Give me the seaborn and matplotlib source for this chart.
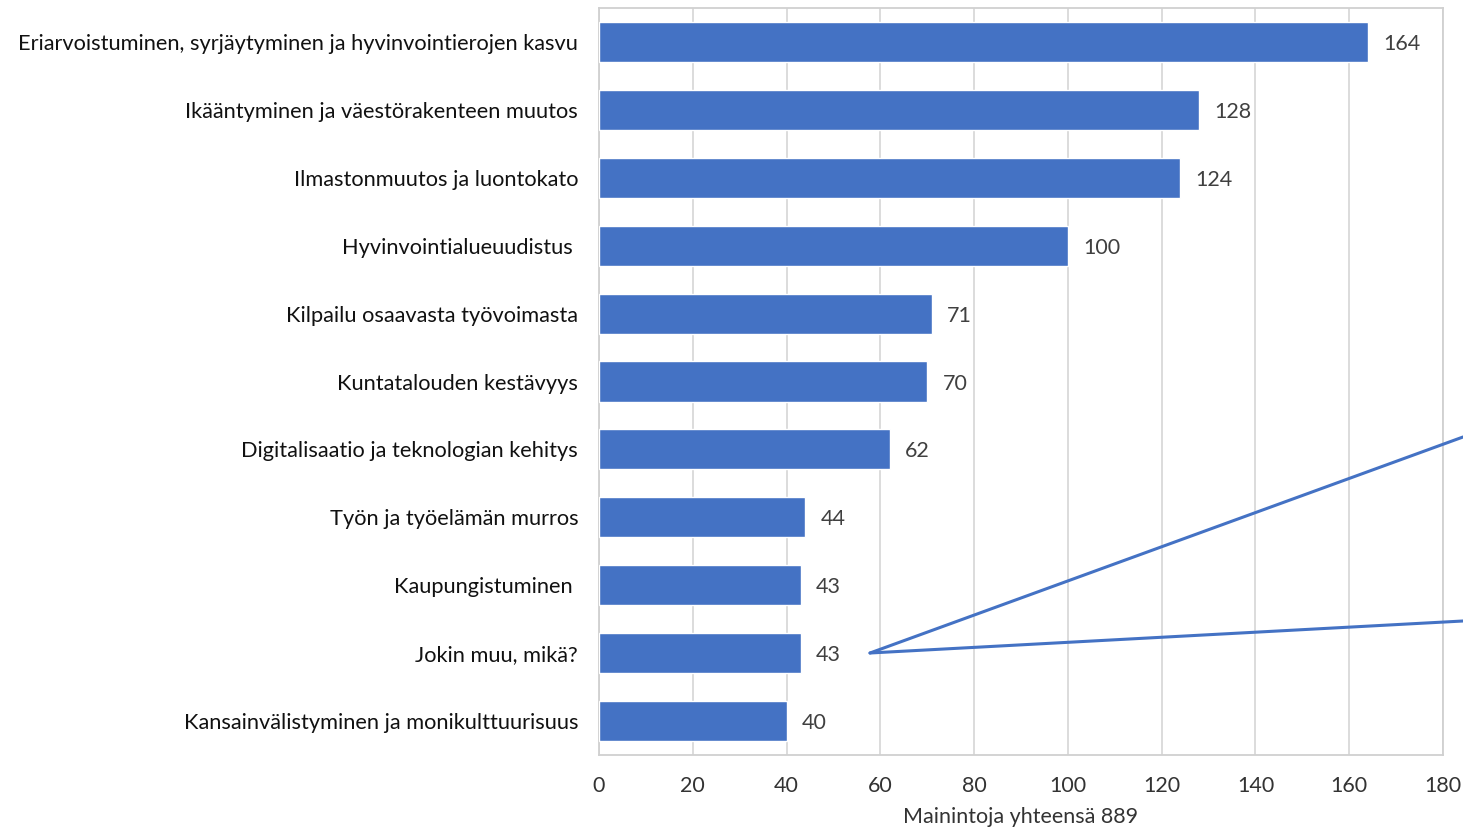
import matplotlib
matplotlib.use("Agg")
import matplotlib.pyplot as plt
import seaborn as sns
import pandas as pd
from matplotlib.lines import Line2D

categories = [
    "Eriarvoistuminen, syrjäytyminen ja hyvinvointierojen kasvu",
    "Ikääntyminen ja väestörakenteen muutos",
    "Ilmastonmuutos ja luontokato",
    "Hyvinvointialueuudistus ",
    "Kilpailu osaavasta työvoimasta",
    "Kuntatalouden kestävyys",
    "Digitalisaatio ja teknologian kehitys",
    "Työn ja työelämän murros",
    "Kaupungistuminen ",
    "Jokin muu, mikä?",
    "Kansainvälistyminen ja monikulttuurisuus",
]
values = [164, 128, 124, 100, 71, 70, 62, 44, 43, 43, 40]
x_ticks = [0, 20, 40, 60, 80, 100, 120, 140, 160, 180]
x_label = "Mainintoja yhteensä 889"

df = pd.DataFrame({"category": categories, "value": values})

sns.set_theme(style="white")
plt.rcParams["font.family"] = ["Lato", "DejaVu Sans"]

fig = plt.figure(figsize=(14.63, 8.30), dpi=100)
ax = fig.add_axes([599 / 1463, 1 - 755 / 830, (1443 - 599) / 1463, (755 - 8) / 830])

bar_color = "#4472C4"
sns.barplot(data=df, y="category", x="value", orient="h", color=bar_color,
            width=0.59, ax=ax, saturation=1, zorder=3)

ax.set_xlim(0, 180)
ax.set_ylim(10.5, -0.5)
ax.set_xticks(x_ticks)
ax.set_xticklabels([str(t) for t in x_ticks], fontsize=15.5, color="#333333")
ax.tick_params(axis="x", length=0, pad=15)
ax.tick_params(axis="y", length=0, pad=15, labelsize=15.7, labelcolor="#111111")
ax.set_ylabel("")
ax.set_xlabel(x_label, fontsize=15.5, color="#333333", labelpad=8)

ax.grid(axis="x", color="#d9d9d9", linewidth=1.3, zorder=0)
ax.set_axisbelow(True)
for s in ax.spines.values():
    s.set_visible(True)
    s.set_color("#d0d0d0")
    s.set_linewidth(1.3)

for i, v in enumerate(values):
    ax.annotate(str(v), xy=(v, i), xytext=(11, 0), textcoords="offset points",
                va="center_baseline", ha="left", fontsize=15.5, color="#404040")

# callout lines from "Jokin muu" bar toward the right edge
apex = (870 / 1463, 1 - 653 / 830)
for end in [(1.0, 1 - 437 / 830), (1.0, 1 - 621 / 830)]:
    fig.add_artist(Line2D([apex[0], end[0]], [apex[1], end[1]],
                          transform=fig.transFigure, color=bar_color,
                          linewidth=2.2, clip_on=False))

fig.savefig("out.png", dpi=100)
